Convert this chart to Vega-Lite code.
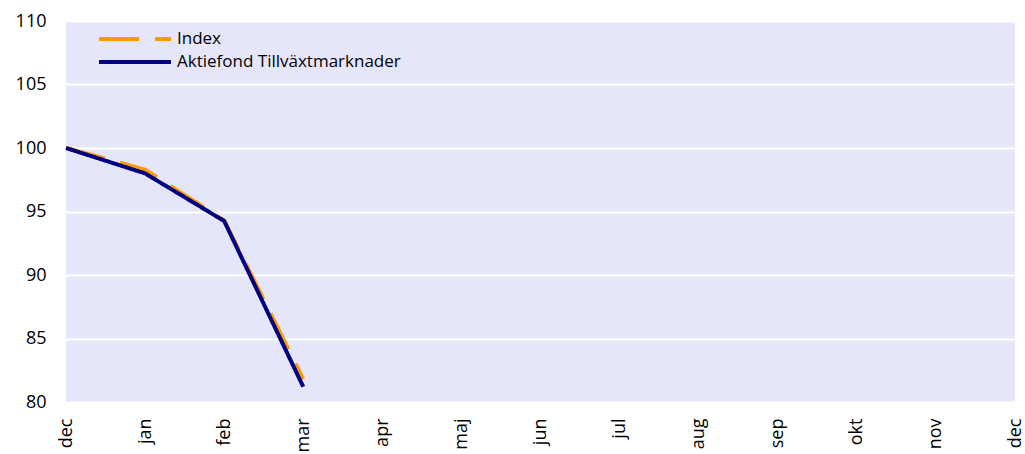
{
  "$schema": "https://vega.github.io/schema/vega-lite/v6.json",
  "width": 949,
  "height": 381,
  "autosize": {"type": "none"},
  "padding": {"left": 66, "top": 21, "right": 10, "bottom": 52},
  "background": "white",
  "config": {
    "view": {"fill": "#E6E6FA", "stroke": null},
    "font": "Open Sans"
  },
  "data": {
    "values": [
      {"m": 0, "series": "Index", "v": 100.0},
      {"m": 1, "series": "Index", "v": 98.3},
      {"m": 2, "series": "Index", "v": 94.3},
      {"m": 3, "series": "Index", "v": 81.8},
      {"m": 0, "series": "Aktiefond Tillväxtmarknader", "v": 100.0},
      {"m": 1, "series": "Aktiefond Tillväxtmarknader", "v": 98.0},
      {"m": 2, "series": "Aktiefond Tillväxtmarknader", "v": 94.25},
      {"m": 3, "series": "Aktiefond Tillväxtmarknader", "v": 81.2}
    ]
  },
  "mark": {"type": "line", "strokeWidth": 4, "strokeCap": "butt", "strokeJoin": "round"},
  "encoding": {
    "x": {
      "field": "m", "type": "quantitative",
      "scale": {"domain": [0, 12], "nice": false, "zero": false},
      "axis": {
        "title": null, "values": [0,1,2,3,4,5,6,7,8,9,10,11,12],
        "labelExpr": "['dec','jan','feb','mar','apr','maj','jun','jul','aug','sep','okt','nov','dec'][datum.value]",
        "labelAngle": -90, "labelFontSize": 18, "labelColor": "#000000", "labelPadding": 16,
        "grid": false, "ticks": false, "domain": false, "labelFlush": false, "labelOverlap": false
      }
    },
    "y": {
      "field": "v", "type": "quantitative",
      "scale": {"domain": [80, 110], "nice": false, "zero": false},
      "axis": {
        "title": null, "values": [80,85,90,95,100,105,110],
        "labelFontSize": 18, "labelColor": "#000000", "labelPadding": 20,
        "grid": true, "gridColor": "#FFFFFF", "gridWidth": 2, "gridOpacity": 1,
        "ticks": false, "domain": false, "labelFlush": false
      }
    },
    "color": {
      "field": "series", "type": "nominal",
      "scale": {"domain": ["Index", "Aktiefond Tillväxtmarknader"], "range": ["#FF9900", "#000080"]},
      "legend": {
        "title": null, "orient": "none", "legendX": 55, "legendY": 4,
        "symbolType": "M-3,0H3", "symbolSize": 576, "symbolStrokeWidth": 4,
        "labelFontSize": 17, "labelColor": "#000000", "labelOffset": 28, "rowPadding": 1, "labelLimit": 0
      }
    },
    "strokeDash": {
      "field": "series", "type": "nominal",
      "scale": {"domain": ["Index", "Aktiefond Tillväxtmarknader"], "range": [[40, 16], [1, 0]]},
      "legend": {
        "title": null, "orient": "none", "legendX": 55, "legendY": 4,
        "symbolType": "M-3,0H3", "symbolSize": 576, "symbolStrokeWidth": 4,
        "labelFontSize": 17, "labelColor": "#000000", "labelOffset": 28, "rowPadding": 1, "labelLimit": 0
      }
    }
  }
}
